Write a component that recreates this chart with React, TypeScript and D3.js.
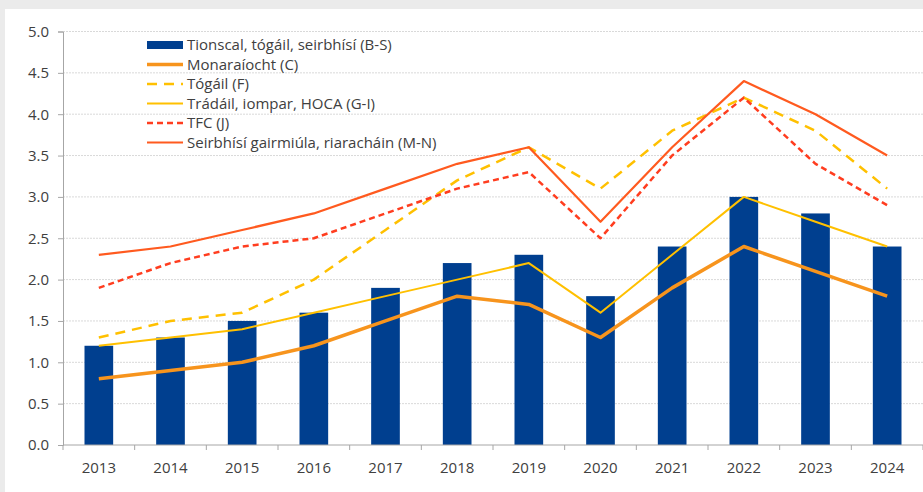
import { useEffect, useRef } from 'react';
import * as d3 from 'd3';

const YEARS = ['2013', '2014', '2015', '2016', '2017', '2018', '2019', '2020', '2021', '2022', '2023', '2024'];
const Y_TICKS = [0, 0.5, 1, 1.5, 2, 2.5, 3, 3.5, 4, 4.5, 5];

const BS = [1.2, 1.3, 1.5, 1.6, 1.9, 2.2, 2.3, 1.8, 2.4, 3.0, 2.8, 2.4];
const MONARAIOCHT = [0.8, 0.9, 1.0, 1.2, 1.5, 1.8, 1.7, 1.3, 1.9, 2.4, 2.1, 1.8];
const TOGAIL = [1.3, 1.5, 1.6, 2.0, 2.6, 3.2, 3.6, 3.1, 3.8, 4.2, 3.8, 3.1];
const TRADAIL = [1.2, 1.3, 1.4, 1.6, 1.8, 2.0, 2.2, 1.6, 2.3, 3.0, 2.7, 2.4];
const TFC = [1.9, 2.2, 2.4, 2.5, 2.8, 3.1, 3.3, 2.5, 3.5, 4.2, 3.4, 2.9];
const SEIRBHISI = [2.3, 2.4, 2.6, 2.8, 3.1, 3.4, 3.6, 2.7, 3.6, 4.4, 4.0, 3.5];

const LINES = [
  { label: 'Monaraíocht (C)', values: MONARAIOCHT, color: '#f7941d', width: 3.5, dash: null },
  { label: 'Tógáil (F)', values: TOGAIL, color: '#ffc000', width: 2.5, dash: '10,7' },
  { label: 'Trádáil, iompar, HOCA (G-I)', values: TRADAIL, color: '#ffc000', width: 2, dash: null },
  { label: 'TFC (J)', values: TFC, color: '#ff3d1f', width: 2.5, dash: '6,4' },
  { label: 'Seirbhísí gairmiúla, riaracháin (M-N)', values: SEIRBHISI, color: '#ff5a1f', width: 2.2, dash: null },
];

const BAR_LABEL = 'Tionscal, tógáil, seirbhísí (B-S)';
const BAR_COLOR = '#003f8f';
const FONT = '"Open Sans", "Liberation Sans", sans-serif';

export default function App() {
  const svgRef = useRef<SVGSVGElement>(null);

  useEffect(() => {
    if (!svgRef.current) return;
    const svg = d3.select(svgRef.current);
    svg.selectAll('*').remove();

    const left = 63, right = 923, top = 31.5, bottom = 445;

    // background panel
    svg.append('rect').attr('width', 923).attr('height', 492).attr('fill', '#ebebeb');
    svg.append('rect').attr('x', 5).attr('y', 9).attr('width', 918).attr('height', 483).attr('fill', '#fff');

    const x = d3.scaleBand().domain(YEARS).range([left, right]).paddingInner(0.6).paddingOuter(0.3);
    const y = d3.scaleLinear().domain([0, 5]).range([bottom, top]);
    const cx = (d: string) => (x(d) as number) + x.bandwidth() / 2;

    // gridlines
    svg.append('g')
      .selectAll('line')
      .data(Y_TICKS.filter((t) => t > 0))
      .join('line')
      .attr('x1', left).attr('x2', right)
      .attr('y1', (d) => y(d)).attr('y2', (d) => y(d))
      .attr('stroke', '#d9d9d9').attr('stroke-width', 1).attr('stroke-dasharray', '2,1');

    // y axis
    const yAxis = svg.append('g')
      .attr('transform', `translate(${left},0)`)
      .call(d3.axisLeft(y).tickValues(Y_TICKS).tickFormat(d3.format('.1f')).tickSize(5).tickPadding(9));
    yAxis.select('.domain').attr('stroke', '#a6a6a6');
    yAxis.selectAll('.tick line').attr('stroke', '#a6a6a6');
    yAxis.selectAll('text').attr('font-family', FONT).attr('font-size', '15px').attr('fill', '#404040');

    // bars
    svg.append('g')
      .selectAll('rect')
      .data(YEARS)
      .join('rect')
      .attr('x', (d) => x(d) as number)
      .attr('width', x.bandwidth())
      .attr('y', (d, i) => y(BS[i]))
      .attr('height', (d, i) => bottom - y(BS[i]))
      .attr('fill', BAR_COLOR);

    // x axis
    const step = x.step();
    svg.append('line')
      .attr('x1', left).attr('x2', right).attr('y1', bottom).attr('y2', bottom)
      .attr('stroke', '#a6a6a6');
    svg.append('g')
      .selectAll('line')
      .data(d3.range(YEARS.length + 1))
      .join('line')
      .attr('x1', (i) => left + i * step).attr('x2', (i) => left + i * step)
      .attr('y1', bottom).attr('y2', bottom + 5)
      .attr('stroke', '#a6a6a6');
    svg.append('g')
      .selectAll('text')
      .data(YEARS)
      .join('text')
      .attr('x', (d) => cx(d)).attr('y', bottom + 28)
      .attr('text-anchor', 'middle')
      .attr('font-family', FONT).attr('font-size', '15px').attr('fill', '#404040')
      .text((d) => d);

    // lines
    const line = d3.line<number>().x((d, i) => cx(YEARS[i])).y((d) => y(d));
    LINES.forEach((s) => {
      svg.append('path')
        .attr('d', line(s.values))
        .attr('fill', 'none')
        .attr('stroke', s.color)
        .attr('stroke-width', s.width)
        .attr('stroke-dasharray', s.dash)
        .attr('stroke-linejoin', 'round');
    });

    // legend
    const lg = svg.append('g').attr('transform', 'translate(147,45)');
    const rowH = 19.5;
    lg.append('rect').attr('x', 0).attr('y', -4).attr('width', 36).attr('height', 8).attr('fill', BAR_COLOR);
    lg.append('text').attr('x', 40).attr('y', 0).attr('dy', '0.35em')
      .attr('font-family', FONT).attr('font-size', '15px').attr('fill', '#404040')
      .text(BAR_LABEL);
    LINES.forEach((s, i) => {
      const ry = (i + 1) * rowH;
      lg.append('line')
        .attr('x1', 0).attr('x2', 36).attr('y1', ry).attr('y2', ry)
        .attr('stroke', s.color)
        .attr('stroke-width', s.width)
        .attr('stroke-dasharray', s.dash);
      lg.append('text').attr('x', 40).attr('y', ry).attr('dy', '0.35em')
        .attr('font-family', FONT).attr('font-size', '15px').attr('fill', '#404040')
        .text(s.label);
    });
  }, []);

  return (
    <div>
      <style>{'body{margin:0}'}</style>
      <svg ref={svgRef} width={923} height={492} style={{ display: 'block' }} />
    </div>
  );
}
